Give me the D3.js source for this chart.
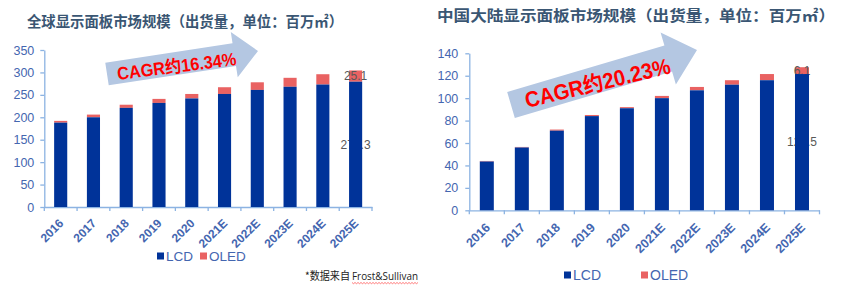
<!DOCTYPE html>
<html>
<head>
<meta charset="utf-8">
<script src="https://cdnjs.cloudflare.com/ajax/libs/d3/7.8.5/d3.min.js"></script>
<style>
  html, body { margin: 0; padding: 0; background: #fff; }
  svg { display: block; }
</style>
</head>
<body>
<div class="chart"></div>
<script>
'use strict';
(function() {
  // Data
  var years = ["2016", "2017", "2018", "2019", "2020", "2021E", "2022E", "2023E", "2024E", "2025E"];
  var globalLCD = [188, 200, 221, 232, 242, 252, 261, 268, 273, 279.3];
  var globalOLED = [4, 6, 7, 9, 10, 15, 17, 20, 23, 25.1];
  var chinaLCD = [43.5, 56, 71, 84, 91, 100, 107, 112, 116, 121.5];
  var chinaOLED = [0.5, 0.5, 1, 1, 1, 2, 3, 4, 5.5, 6.1];
  var globalTicks = [0, 50, 100, 150, 200, 250, 300, 350];
  var chinaTicks = [0, 20, 40, 60, 80, 100, 120, 140];
  var seriesNames = ["LCD", "OLED"];

  // Colors
  var LCD_COLOR = "#003399";
  var OLED_COLOR = "#e96262";
  var AXIS_COLOR = "#8cb3e2";
  var TICK_TEXT = "#4466b0";
  var LABEL_TEXT = "#595959";
  var ARROW_COLOR = "#b4c7e2";

  var w = 841;
  var h = 290;

  var svg = d3.select(".chart")
    .append("svg")
    .attr("width", w)
    .attr("height", h);

  // Arrow outline from tail to tip
  var arrowPath = function(tail, tip, halfBody, halfHead, headLen) {
    var dx = tip[0] - tail[0];
    var dy = tip[1] - tail[1];
    var len = Math.sqrt(dx * dx + dy * dy);
    var ux = dx / len, uy = dy / len;
    var nx = uy, ny = -ux;
    var bx = tip[0] - headLen * ux, by = tip[1] - headLen * uy;
    var pts = [
      [tail[0] + halfBody * nx, tail[1] + halfBody * ny],
      [bx + halfBody * nx, by + halfBody * ny],
      [bx + halfHead * nx, by + halfHead * ny],
      tip,
      [bx - halfHead * nx, by - halfHead * ny],
      [bx - halfBody * nx, by - halfBody * ny],
      [tail[0] - halfBody * nx, tail[1] - halfBody * ny]
    ];
    return "M" + pts.map(function(p) { return p[0] + "," + p[1]; }).join("L") + "Z";
  };

  var drawPanel = function(cfg) {
    var g = svg.append("g");

    // Title
    g.append("text")
      .attr("x", cfg.titleX)
      .attr("y", cfg.titleY)
      .attr("textLength", cfg.titleLen)
      .attr("lengthAdjust", "spacingAndGlyphs")
      .attr("font-family", "'Noto Sans CJK SC', sans-serif")
      .attr("font-weight", "bold")
      .attr("font-size", cfg.titleSize)
      .attr("fill", "#3a5673")
      .text(cfg.title);

    // Scales
    var x = d3.scaleBand()
      .domain(years)
      .range([cfg.x0, cfg.x1])
      .paddingInner(0.6)
      .paddingOuter(0.3);

    var y = d3.scaleLinear()
      .domain([0, d3.max(cfg.ticks)])
      .range([cfg.y0, cfg.yTop]);

    // CAGR arrow
    g.append("path")
      .attr("d", arrowPath(cfg.arrow.tail, cfg.arrow.tip, cfg.arrow.halfBody, cfg.arrow.halfHead, cfg.arrow.headLen))
      .attr("fill", ARROW_COLOR);

    g.append("text")
      .attr("transform", "translate(" + cfg.cagr.x + "," + cfg.cagr.y + ") rotate(" + cfg.cagr.angle + ")")
      .attr("textLength", cfg.cagr.len)
      .attr("lengthAdjust", "spacingAndGlyphs")
      .attr("font-family", "'Liberation Sans', 'Noto Sans CJK SC', sans-serif")
      .attr("font-weight", "bold")
      .attr("font-size", cfg.cagr.size)
      .attr("fill", "#ff0000")
      .text(cfg.cagr.text);

    // Y axis
    var yAxis = d3.axisLeft(y)
      .tickValues(cfg.ticks)
      .tickSizeInner(4)
      .tickSizeOuter(0)
      .tickPadding(cfg.tickPad);

    var ya = g.append("g")
      .attr("transform", "translate(" + cfg.x0 + ",0)")
      .call(yAxis);
    ya.selectAll("path, line").attr("stroke", AXIS_COLOR).attr("stroke-width", 1.3);
    ya.selectAll("text")
      .attr("fill", TICK_TEXT)
      .attr("font-family", "'Liberation Sans', Arial, sans-serif")
      .attr("font-size", cfg.tickSize);

    // X axis
    var xa = g.append("g")
      .attr("transform", "translate(0," + cfg.y0 + ")")
      .call(d3.axisBottom(x).tickSize(0).tickFormat(""));
    xa.select("path").attr("stroke", AXIS_COLOR).attr("stroke-width", 1.3);

    var step = x.step();
    var edges = years.map(function(d) { return x(d) - (step - x.bandwidth()) / 2; });
    edges.push(edges[edges.length - 1] + step);
    g.selectAll(".xtick")
      .data(edges)
      .enter()
      .append("line")
      .attr("x1", function(d) { return d; })
      .attr("x2", function(d) { return d; })
      .attr("y1", cfg.y0)
      .attr("y2", cfg.y0 + 4)
      .attr("stroke", AXIS_COLOR)
      .attr("stroke-width", 1.3);

    g.selectAll(".xlabel")
      .data(years)
      .enter()
      .append("text")
      .attr("transform", function(d) {
        return "translate(" + (x(d) + x.bandwidth() / 2 + cfg.xLabDx) + "," + (cfg.y0 + cfg.xLabDy) + ") rotate(-45)";
      })
      .attr("text-anchor", "end")
      .attr("fill", TICK_TEXT)
      .attr("font-family", "'Liberation Sans', Arial, sans-serif")
      .attr("font-weight", "bold")
      .attr("font-size", cfg.xLabSize)
      .text(function(d) { return d; });

    // Stack data
    var rows = years.map(function(d, i) {
      return { year: d, lcd: cfg.lcd[i], oled: cfg.oled[i] };
    });

    // OLED bars
    g.append("g")
      .selectAll("rect")
      .data(rows)
      .enter()
      .append("rect")
      .attr("x", function(d) { return x(d.year); })
      .attr("y", function(d) { return y(d.lcd + d.oled); })
      .attr("width", x.bandwidth())
      .attr("height", function(d) { return y(d.lcd) - y(d.lcd + d.oled); })
      .attr("fill", OLED_COLOR);

    // Data labels on the last bar
    var last = rows[rows.length - 1];
    var lx = x(last.year) + x.bandwidth() / 2;
    var labels = [
      { v: last.oled, yy: y(last.lcd + last.oled / 2) },
      { v: last.lcd, yy: y(last.lcd / 2) }
    ];
    g.selectAll(".vlabel")
      .data(labels)
      .enter()
      .append("text")
      .attr("x", lx)
      .attr("y", function(d) { return d.yy; })
      .attr("dy", "0.35em")
      .attr("text-anchor", "middle")
      .attr("fill", LABEL_TEXT)
      .attr("font-family", "'Liberation Sans', Arial, sans-serif")
      .attr("font-size", 12)
      .text(function(d) { return d.v; });

    // LCD bars
    g.append("g")
      .selectAll("rect")
      .data(rows)
      .enter()
      .append("rect")
      .attr("x", function(d) { return x(d.year); })
      .attr("y", function(d) { return y(d.lcd); })
      .attr("width", x.bandwidth())
      .attr("height", function(d) { return y(0) - y(d.lcd); })
      .attr("fill", LCD_COLOR);

    // Legend
    var legend = g.selectAll(".legend")
      .data(seriesNames)
      .enter()
      .append("g")
      .attr("transform", function(d, i) {
        return "translate(" + cfg.legendX[i] + "," + cfg.legendY + ")";
      });
    legend.append("rect")
      .attr("x", 0)
      .attr("y", -3.5)
      .attr("width", 7)
      .attr("height", 7)
      .attr("fill", function(d, i) { return i === 0 ? LCD_COLOR : OLED_COLOR; });
    legend.append("text")
      .attr("x", 9)
      .attr("y", 5)
      .attr("fill", TICK_TEXT)
      .attr("font-family", "'Liberation Sans', Arial, sans-serif")
      .attr("font-size", cfg.legendSize)
      .text(function(d) { return d; });
  };

  drawPanel({
    title: "全球显示面板市场规模（出货量，单位：百万㎡）",
    titleX: 27, titleY: 27, titleLen: 316, titleSize: 14.5,
    lcd: globalLCD, oled: globalOLED, ticks: globalTicks,
    x0: 44.3, x1: 372, y0: 207, yTop: 50,
    tickPad: 6, tickSize: 12.5,
    xLabDx: 3.6, xLabDy: 17, xLabSize: 12,
    legendX: [157, 200], legendY: 256, legendSize: 13.5,
    arrow: { tail: [107, 74], tip: [258, 51], halfBody: 11.5, halfHead: 23, headLen: 24 },
    cagr: { text: "CAGR约16.34%", x: 118, y: 80, angle: -7.2, len: 120, size: 18 }
  });

  drawPanel({
    title: "中国大陆显示面板市场规模（出货量，单位：百万㎡）",
    titleX: 437, titleY: 21, titleLen: 398, titleSize: 15,
    lcd: chinaLCD, oled: chinaOLED, ticks: chinaTicks,
    x0: 469.3, x1: 819.5, y0: 210.3, yTop: 53.3,
    tickPad: 7, tickSize: 12.5,
    xLabDx: 4, xLabDy: 18, xLabSize: 12.5,
    legendX: [564, 641], legendY: 275, legendSize: 14,
    arrow: { tail: [511, 105], tip: [697, 50], halfBody: 13.5, halfHead: 27, headLen: 30 },
    cagr: { text: "CAGR约20.23%", x: 527, y: 108, angle: -13.6, len: 149, size: 22 }
  });

  // Source note
  svg.append("text")
    .attr("x", 305)
    .attr("y", 280)
    .attr("textLength", 45)
    .attr("lengthAdjust", "spacingAndGlyphs")
    .attr("font-family", "'Noto Sans CJK SC', sans-serif")
    .attr("font-size", 11)
    .attr("fill", "#222")
    .text("*数据来自");
  svg.append("text")
    .attr("x", 352)
    .attr("y", 280)
    .attr("textLength", 66)
    .attr("lengthAdjust", "spacingAndGlyphs")
    .attr("font-family", "'Open Sans', sans-serif")
    .attr("font-size", 11)
    .attr("fill", "#222")
    .text("Frost&Sullivan");

  // Spell-check squiggle under the source
  var wave = d3.range(352, 418.5, 1.5).map(function(xx, i) {
    return [xx, 282.5 + (i % 2 === 0 ? 0 : 1.2)];
  });
  svg.append("path")
    .attr("d", d3.line()(wave))
    .attr("fill", "none")
    .attr("stroke", "#ff4444")
    .attr("stroke-width", 0.7);
})();
</script>
</body>
</html>
